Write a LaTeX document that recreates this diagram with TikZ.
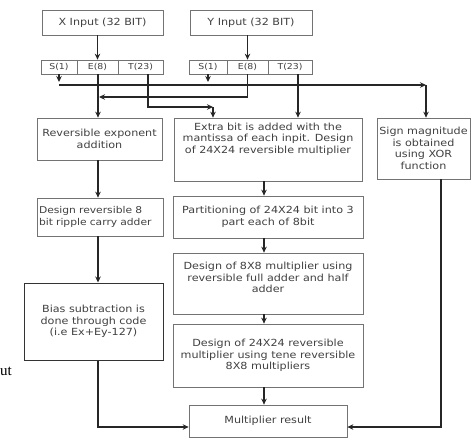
\documentclass[tikz,border=0pt]{standalone}
\usepackage{fontspec}
\setmainfont{DejaVu Sans}[FakeStretch=1.14]
\newfontfamily\serifut{Liberation Serif}
\usetikzlibrary{arrows.meta,calc}
\tikzset{
  box/.style={draw=black!55, line width=0.7pt, rectangle, inner sep=1pt, align=center,
    text=black!75, font=\fontsize{9.8}{11.5}\selectfont},
  fld/.style={draw=black!55, line width=0.7pt, rectangle, inner sep=0pt,
    text=black!75, font=\fontsize{8.2}{9}\selectfont, minimum height=14pt},
  arr/.style={draw=black!85, line width=1.3pt, -{Stealth[length=6pt,width=5.5pt]}},
}
\begin{document}
\begin{tikzpicture}[x=1pt,y=-1pt]
\useasboundingbox (0,0) rectangle (471,440);
% inputs
\node[box, minimum width=121pt, minimum height=25pt] (xin) at (102.5,22.5) {X Input (32 BIT)};
\node[box, minimum width=122pt, minimum height=25pt] (yin) at (251,22.5) {Y Input (32 BIT)};
% fields
\node[fld, minimum width=36pt] (xS) at (59,67) {S(1)};
\node[fld, minimum width=41pt] (xE) at (97.5,67) {E(8)};
\node[fld, minimum width=45pt] (xT) at (140.5,67) {T(23)};
\node[fld, minimum width=38pt] (yS) at (208,67) {S(1)};
\node[fld, minimum width=41pt] (yE) at (247.5,67) {E(8)};
\node[fld, minimum width=44pt] (yT) at (290,67) {T(23)};
% boxes
\node[box, minimum width=125pt, minimum height=42pt] (exp) at (99.5,139) {Reversible exponent\\addition};
\node[box, minimum width=188pt, minimum height=63pt] (extra) at (268,149.5) {Extra bit is added with the\\mantissa of each inpit. Design\\of 24X24 reversible multiplier\\\mbox{}\\\mbox{}};
\node[box, minimum width=93pt, minimum height=61pt] (sign) at (423.5,148.5) {Sign magnitude\\is obtained\\using XOR\\function};
\node[box, minimum width=126pt, minimum height=38pt, text width=122pt, align=left, font=\fontsize{9.4}{11.5}\selectfont] (rca) at (100,217) {Design reversible 8\\bit ripple carry adder};
\node[box, minimum width=190pt, minimum height=42pt] (part) at (268,217) {Partitioning of 24X24 bit into 3\\part each of 8bit};
\node[box, minimum width=190pt, minimum height=61pt] (m8) at (268,283.5) {Design of 8X8 multiplier using\\reversible full adder and half\\adder\\\mbox{}};
\node[box, minimum width=139pt, minimum height=77pt, draw=black!80, line width=1pt] (bias) at (93.5,321.5) {Bias subtraction is\\done through code\\(i.e Ex+Ey-127)};
\node[box, minimum width=190pt, minimum height=63pt] (m24) at (268,355.5) {Design of 24X24 reversible\\multiplier using tene reversible\\8X8 multipliers};
\node[box, minimum width=158pt, minimum height=32pt] (res) at (268,421) {Multiplier result};
\node[anchor=base west, inner sep=0pt, font=\serifut\fontsize{15}{15}\selectfont] (ut) at (0,375) {ut};
% helper coordinates
\coordinate (bus) at (0,85);
\coordinate (ebus) at (0,97);
\coordinate (tbus) at (0,107);
\coordinate (tx) at (148,0);
\coordinate (tin) at (213,0);
\coordinate (ytx) at (298,0);
\coordinate (cm) at (264,0);
\coordinate (lx) at (98,0);
\coordinate (sx) at (441,0);
\coordinate (bot) at (0,427);
\coordinate (sgx) at (426,0);
\coordinate (sarr) at (0,82);
% connectors
\draw[arr] (xin.south -| xE.north) -- (xE.north);
\draw[arr] (yin.south -| yE.north) -- (yE.north);
\draw[arr] (xS.south) -- (xS.south |- sarr);
\draw[arr] (yS.south) -- (yS.south |- sarr);
\draw[arr] (xS.south |- bus) -- (sgx |- bus);
\draw[arr] (sgx |- bus) -- (sgx |- sign.north);
\draw[arr] (xE.south -| lx) -- (lx |- exp.north);
\draw[arr] (yE.south) |- ($(lx |- ebus)+(1,0)$);
\draw[arr] (tx |- xT.south) |- (tin |- tbus);
\draw[arr] (tin |- tbus) -- (tin |- extra.north);
\draw[arr] (ytx |- yT.south) -- (ytx |- extra.north);
\draw[arr] (lx |- exp.south) -- (lx |- rca.north);
\draw[arr] (lx |- rca.south) -- (lx |- bias.north);
\draw[arr] (cm |- extra.south) -- (cm |- part.north);
\draw[arr] (cm |- part.south) -- (cm |- m8.north);
\draw[arr] (cm |- m8.south) -- (cm |- m24.north);
\draw[arr] (cm |- m24.south) -- (cm |- res.north);
\draw[arr] (lx |- bias.south) |- (res.west |- bot);
\draw[arr] (sx |- sign.south) |- (res.east |- bot);
\end{tikzpicture}
\end{document}
